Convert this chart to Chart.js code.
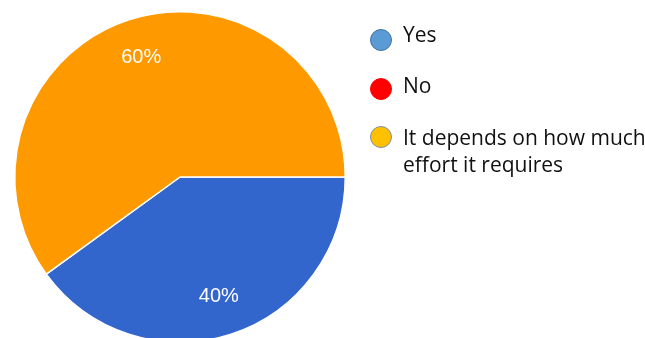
<!DOCTYPE html>
<html>
<head>
<meta charset="utf-8">
<script src="https://cdn.jsdelivr.net/npm/chart.js@4/dist/chart.umd.min.js"></script>
<style>
  html, body { margin: 0; padding: 0; background: #fff; overflow: hidden; }
  #wrap { position: relative; width: 645px; height: 354px; }
</style>
</head>
<body>
<div id="wrap"><canvas id="c"></canvas></div>
<script>
const categories = ["Yes", "No", "It depends on how much effort it requires"];
const values = [40, 0, 60];
const sliceColors = ["#3366CC", "#DC3912", "#FF9900"];
const legendColors = ["#5B9BD5", "#FF0000", "#FFC000"];
const legendBorders = ["#41719C", "#FF0000", "#7F8F9F"];
const legendLines = [["Yes"], ["No"], ["It depends on how much", "effort it requires"]];

const total = values.reduce((a, b) => a + b, 0);

const labelPlugin = {
  id: 'sliceLabels',
  afterDatasetsDraw(chart) {
    const ctx = chart.ctx;
    const meta = chart.getDatasetMeta(0);
    ctx.save();
    ctx.fillStyle = '#ffffff';
    ctx.font = '20px "Liberation Sans", Arial, sans-serif';
    ctx.textAlign = 'center';
    ctx.textBaseline = 'middle';
    meta.data.forEach((arc, i) => {
      if (!values[i]) return;
      const mid = (arc.startAngle + arc.endAngle) / 2;
      const r = arc.outerRadius * 0.76;
      const x = arc.x + Math.cos(mid) * r;
      const y = arc.y + Math.sin(mid) * r;
      ctx.fillText(Math.round(values[i] / total * 100) + '%', x, y);
    });
    ctx.restore();
  }
};

const legendPlugin = {
  id: 'customLegend',
  afterDraw(chart) {
    const ctx = chart.ctx;
    ctx.save();
    const x0 = 381, circleYs = [40, 89, 137], baseYs = [42, 93, 145];
    ctx.font = '21px "Open Sans", sans-serif';
    ctx.textAlign = 'left';
    ctx.textBaseline = 'alphabetic';
    categories.forEach((c, i) => {
      ctx.beginPath();
      ctx.arc(x0, circleYs[i], 10.5, 0, Math.PI * 2);
      ctx.fillStyle = legendColors[i];
      ctx.fill();
      ctx.lineWidth = 1;
      ctx.strokeStyle = legendBorders[i];
      ctx.stroke();
      ctx.fillStyle = '#111111';
      legendLines[i].forEach((t, j) => {
        ctx.fillText(t, 403, baseYs[i] + j * 27);
      });
    });
    ctx.restore();
  }
};

new Chart(document.getElementById('c'), {
  type: 'pie',
  data: {
    labels: categories,
    datasets: [{
      data: values,
      backgroundColor: sliceColors,
      borderColor: '#ffffff',
      borderWidth: 1.5
    }]
  },
  options: {
    responsive: true,
    maintainAspectRatio: false,
    animation: false,
    rotation: 90,
    layout: { padding: { left: 14, right: 299, top: 11, bottom: 11 } },
    plugins: {
      legend: { display: false },
      tooltip: { enabled: false }
    }
  },
  plugins: [labelPlugin, legendPlugin]
});
</script>
</body>
</html>
